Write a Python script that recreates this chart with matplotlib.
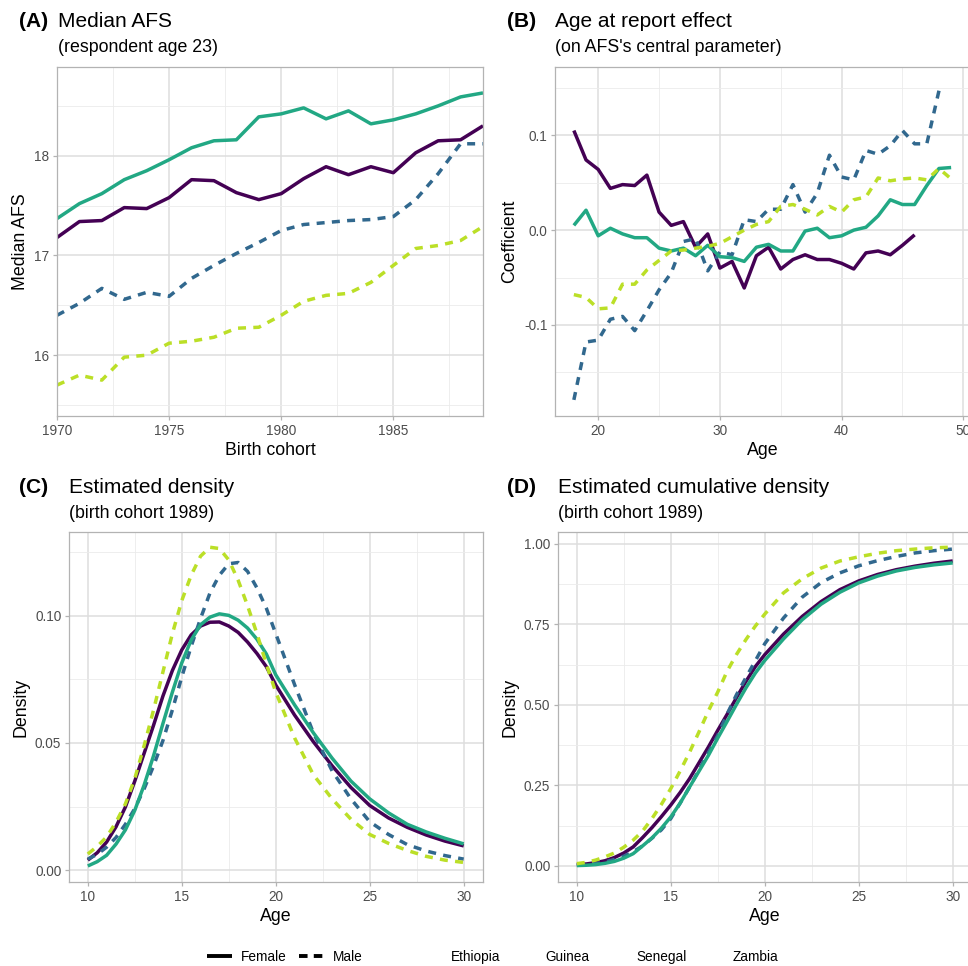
import matplotlib
matplotlib.use('Agg')
import matplotlib.pyplot as plt
from matplotlib.lines import Line2D
from matplotlib.ticker import MultipleLocator, FixedLocator

plt.rcParams['font.family'] = ['Liberation Sans', 'DejaVu Sans']

countries = ['Ethiopia', 'Guinea', 'Senegal', 'Zambia']
colors = ['#440154', '#31688E', '#22A884', '#BBDF27']
styles = ['solid', 'dashed', 'solid', 'dashed']

# (A) median AFS by birth cohort
cohort = list(range(1970, 1990))
median_afs = {
    'Ethiopia': [17.18, 17.34, 17.35, 17.48, 17.47, 17.58, 17.76, 17.75, 17.63, 17.56,
                 17.62, 17.77, 17.89, 17.81, 17.89, 17.83, 18.03, 18.15, 18.16, 18.30],
    'Guinea': [16.40, 16.52, 16.67, 16.56, 16.63, 16.59, 16.77, 16.90, 17.02, 17.13,
               17.25, 17.31, 17.33, 17.35, 17.36, 17.39, 17.56, 17.82, 18.12, 18.12],
    'Senegal': [17.37, 17.52, 17.62, 17.76, 17.85, 17.96, 18.08, 18.15, 18.16, 18.39,
                18.42, 18.48, 18.37, 18.45, 18.32, 18.36, 18.42, 18.50, 18.59, 18.63],
    'Zambia': [15.70, 15.80, 15.75, 15.98, 16.00, 16.12, 16.14, 16.18, 16.27, 16.28,
               16.40, 16.54, 16.60, 16.62, 16.73, 16.90, 17.07, 17.10, 17.15, 17.29],
}

# (B) age at report effect
report_age = {
    'Ethiopia': list(range(18, 47)),
    'Guinea': list(range(18, 49)),
    'Senegal': list(range(18, 50)),
    'Zambia': list(range(18, 50)),
}
coef = {
    'Ethiopia': [0.105, 0.074, 0.064, 0.044, 0.048, 0.047, 0.058, 0.019, 0.005, 0.009,
                 -0.018, -0.004, -0.040, -0.033, -0.061, -0.027, -0.018, -0.041, -0.031,
                 -0.026, -0.031, -0.031, -0.035, -0.041, -0.024, -0.022, -0.026, -0.016,
                 -0.005],
    'Guinea': [-0.179, -0.118, -0.116, -0.094, -0.091, -0.106, -0.085, -0.063, -0.045,
               -0.012, -0.009, -0.043, -0.023, -0.026, 0.011, 0.009, 0.022, 0.022, 0.048,
               0.019, 0.039, 0.079, 0.056, 0.053, 0.084, 0.080, 0.089, 0.105, 0.091,
               0.091, 0.147],
    'Senegal': [0.005, 0.021, -0.006, 0.002, -0.004, -0.008, -0.008, -0.019, -0.022,
                -0.019, -0.027, -0.016, -0.028, -0.029, -0.033, -0.018, -0.015, -0.022,
                -0.022, -0.001, 0.002, -0.008, -0.006, 0.000, 0.003, 0.015, 0.032, 0.027,
                0.027, 0.047, 0.065, 0.066],
    'Zambia': [-0.068, -0.071, -0.083, -0.082, -0.057, -0.057, -0.042, -0.032, -0.022,
               -0.021, -0.019, -0.017, -0.014, -0.007, 0.000, 0.006, 0.009, 0.025, 0.027,
               0.022, 0.016, 0.025, 0.019, 0.032, 0.035, 0.055, 0.052, 0.054, 0.055,
               0.053, 0.065, 0.054],
}

# (C), (D) estimated density / cumulative density, birth cohort 1989
ages = [10, 10.5, 11, 11.5, 12, 12.5, 13, 13.5, 14, 14.5, 15, 15.5, 16, 16.5, 17, 17.5,
        18, 18.5, 19, 19.5, 20, 21, 22, 23, 24, 25, 26, 27, 28, 29, 30]
density = {
    'Ethiopia': [0.0039, 0.0068, 0.011, 0.017, 0.0248, 0.035, 0.046, 0.057, 0.0685,
                 0.0785, 0.0866, 0.0925, 0.0960, 0.0975, 0.0976, 0.096, 0.0935, 0.0897,
                 0.0852, 0.080, 0.0728, 0.061, 0.0505, 0.041, 0.0325, 0.0254, 0.0205,
                 0.0168, 0.0138, 0.0114, 0.0095],
    'Guinea': [0.0043, 0.0062, 0.009, 0.0128, 0.018, 0.0242, 0.032, 0.041, 0.051, 0.063,
               0.076, 0.088, 0.099, 0.109, 0.116, 0.1205, 0.121, 0.1175, 0.111, 0.103,
               0.093, 0.073, 0.054, 0.039, 0.028, 0.019, 0.014, 0.010, 0.0075, 0.0057,
               0.0043],
    'Senegal': [0.0016, 0.0033, 0.0058, 0.0102, 0.0158, 0.0235, 0.0335, 0.045, 0.0577,
                0.070, 0.0815, 0.0905, 0.0965, 0.0995, 0.1008, 0.1002, 0.0983, 0.0952,
                0.0908, 0.085, 0.0768, 0.065, 0.054, 0.044, 0.035, 0.028, 0.0225, 0.018,
                0.015, 0.0125, 0.0103],
    'Zambia': [0.0063, 0.0093, 0.013, 0.0188, 0.026, 0.036, 0.049, 0.063, 0.078, 0.093,
               0.106, 0.116, 0.1235, 0.127, 0.1265, 0.122, 0.114, 0.104, 0.093, 0.081,
               0.070, 0.052, 0.0375, 0.028, 0.020, 0.014, 0.0105, 0.0077, 0.0054, 0.0039,
               0.0030],
}
cumulative = {
    'Ethiopia': [0.004, 0.006, 0.010, 0.016, 0.026, 0.040, 0.059, 0.088, 0.119, 0.153,
                 0.189, 0.228, 0.271, 0.320, 0.369, 0.421, 0.471, 0.523, 0.573, 0.619,
                 0.656, 0.720, 0.775, 0.821, 0.858, 0.885, 0.905, 0.920, 0.931, 0.940,
                 0.947],
    'Guinea': [0.002, 0.004, 0.007, 0.012, 0.020, 0.030, 0.044, 0.062, 0.086, 0.112,
               0.147, 0.195, 0.245, 0.298, 0.352, 0.405, 0.472, 0.532, 0.585, 0.637,
               0.690, 0.770, 0.835, 0.880, 0.910, 0.932, 0.948, 0.961, 0.972, 0.979,
               0.984],
    'Senegal': [0.001, 0.002, 0.004, 0.008, 0.014, 0.024, 0.038, 0.062, 0.087, 0.117,
                0.152, 0.195, 0.245, 0.294, 0.343, 0.397, 0.449, 0.502, 0.553, 0.599,
                0.638, 0.705, 0.765, 0.813, 0.850, 0.879, 0.900, 0.916, 0.927, 0.935,
                0.941],
    'Zambia': [0.007, 0.011, 0.018, 0.028, 0.040, 0.058, 0.080, 0.108, 0.147, 0.191,
               0.240, 0.295, 0.353, 0.416, 0.481, 0.540, 0.605, 0.657, 0.703, 0.745,
               0.782, 0.848, 0.892, 0.925, 0.947, 0.960, 0.971, 0.979, 0.984, 0.988,
               0.990],
}

W, H = 968, 966


def frac(x, y):
    return x / W, 1 - y / H


def style_axes(ax):
    ax.set_facecolor('white')
    for s in ax.spines.values():
        s.set_color('#B3B3B3')
        s.set_linewidth(0.9)
    ax.grid(which='major', color='#DEDEDE', linewidth=1.1)
    ax.grid(which='minor', color='#EBEBEB', linewidth=0.6)
    ax.set_axisbelow(True)
    ax.tick_params(which='major', length=3, width=0.9, color='#B3B3B3',
                   labelsize=9.8, labelcolor='#4D4D4D', pad=2.5)
    ax.tick_params(which='minor', length=0)


def draw(ax, xs, ys):
    for c, col, ls in zip(countries, colors, styles):
        line, = ax.plot(xs[c], ys[c], color=col, linewidth=2.5,
                        solid_capstyle='butt', solid_joinstyle='round')
        if ls == 'dashed':
            line.set_dashes((2.3, 2.1))
            line.set_dash_capstyle('butt')


fig = plt.figure(figsize=(W / 100, H / 100), dpi=100)

# panel rectangles in pixels: left, top, right, bottom
rects = {
    'A': (57, 67, 483, 416),
    'B': (555, 67, 970, 416),
    'C': (69, 532, 482.5, 882),
    'D': (558, 532, 971.5, 882),
}
axes = {}
for k, (l, t, r, b) in rects.items():
    axes[k] = fig.add_axes([l / W, 1 - b / H, (r - l) / W, (b - t) / H])
    style_axes(axes[k])

# (A)
ax = axes['A']
draw(ax, {c: cohort for c in countries}, median_afs)
ax.set_xlim(1970, 1989)
ax.set_ylim(15.39, 18.89)
ax.xaxis.set_major_locator(MultipleLocator(5))
ax.xaxis.set_minor_locator(MultipleLocator(2.5))
ax.yaxis.set_major_locator(FixedLocator([16, 17, 18]))
ax.yaxis.set_minor_locator(FixedLocator([15.5, 16.5, 17.5, 18.5]))
ax.set_xlabel('Birth cohort', fontsize=12.8, labelpad=3)
ax.set_ylabel('Median AFS', fontsize=12.8, labelpad=4)

# (B)
ax = axes['B']
draw(ax, report_age, coef)
ax.set_xlim(16.45, 50.55)
ax.set_ylim(-0.196, 0.172)
ax.xaxis.set_major_locator(FixedLocator([20, 30, 40, 50]))
ax.xaxis.set_minor_locator(FixedLocator([25, 35, 45]))
ax.yaxis.set_major_locator(FixedLocator([-0.1, 0.0, 0.1]))
ax.yaxis.set_minor_locator(FixedLocator([-0.15, -0.05, 0.05, 0.15]))
ax.set_yticklabels(['-0.1', '0.0', '0.1'])
ax.set_xlabel('Age', fontsize=12.8, labelpad=3)
ax.set_ylabel('Coefficient', fontsize=12.8, labelpad=4)

# (C)
ax = axes['C']
draw(ax, {c: ages for c in countries}, density)
ax.set_xlim(9, 31)
ax.set_ylim(-0.0047, 0.133)
ax.xaxis.set_major_locator(MultipleLocator(5))
ax.xaxis.set_minor_locator(FixedLocator([12.5, 17.5, 22.5, 27.5]))
ax.yaxis.set_major_locator(FixedLocator([0, 0.05, 0.10]))
ax.yaxis.set_minor_locator(FixedLocator([0.025, 0.075, 0.125]))
ax.set_yticklabels(['0.00', '0.05', '0.10'])
ax.set_xlabel('Age', fontsize=12.8, labelpad=3)
ax.set_ylabel('Density', fontsize=12.8, labelpad=4)

# (D)
ax = axes['D']
draw(ax, {c: ages for c in countries}, cumulative)
ax.set_xlim(9, 31)
ax.set_ylim(-0.05, 1.037)
ax.xaxis.set_major_locator(MultipleLocator(5))
ax.xaxis.set_minor_locator(FixedLocator([12.5, 17.5, 22.5, 27.5]))
ax.yaxis.set_major_locator(FixedLocator([0, 0.25, 0.5, 0.75, 1.0]))
ax.yaxis.set_minor_locator(FixedLocator([0.125, 0.375, 0.625, 0.875]))
ax.set_yticklabels(['0.00', '0.25', '0.50', '0.75', '1.00'])
ax.set_xlabel('Age', fontsize=12.8, labelpad=3)
ax.set_ylabel('Density', fontsize=12.8, labelpad=4)

# titles
titles = [
    ('(A)', 19, 'Median AFS', 58, 27, '(respondent age 23)', 52.5),
    ('(B)', 507, 'Age at report effect', 555, 27, "(on AFS's central parameter)", 52.5),
    ('(C)', 19, 'Estimated density', 69, 493, '(birth cohort 1989)', 518.5),
    ('(D)', 507, 'Estimated cumulative density', 558, 493, '(birth cohort 1989)', 518.5),
]
for tag, tx, title, x0, yb, sub, ys in titles:
    fig.text(*frac(tx, yb), tag, fontsize=15, fontweight='bold', va='baseline')
    fig.text(*frac(x0, yb), title, fontsize=15, va='baseline')
    fig.text(*frac(x0, ys), sub, fontsize=12.8, va='baseline')

# legend
handles = [Line2D([], [], color='black', linewidth=2.8, solid_capstyle='butt'),
           Line2D([], [], color='black', linewidth=2.8, dashes=(2.2, 1.6),
                  dash_capstyle='butt')]
fig.legend(handles, ['Female', 'Male'], loc='center left',
           bbox_to_anchor=frac(207, 957), ncol=2, frameon=False, fontsize=9.8,
           handlelength=1.8, handletextpad=0.7, columnspacing=0.9,
           borderpad=0, borderaxespad=0)
for c, x in zip(countries, [451, 545, 636, 733]):
    fig.text(*frac(x, 957), c, fontsize=9.8, va='center')

fig.savefig('out.png', dpi=100, facecolor='white')
